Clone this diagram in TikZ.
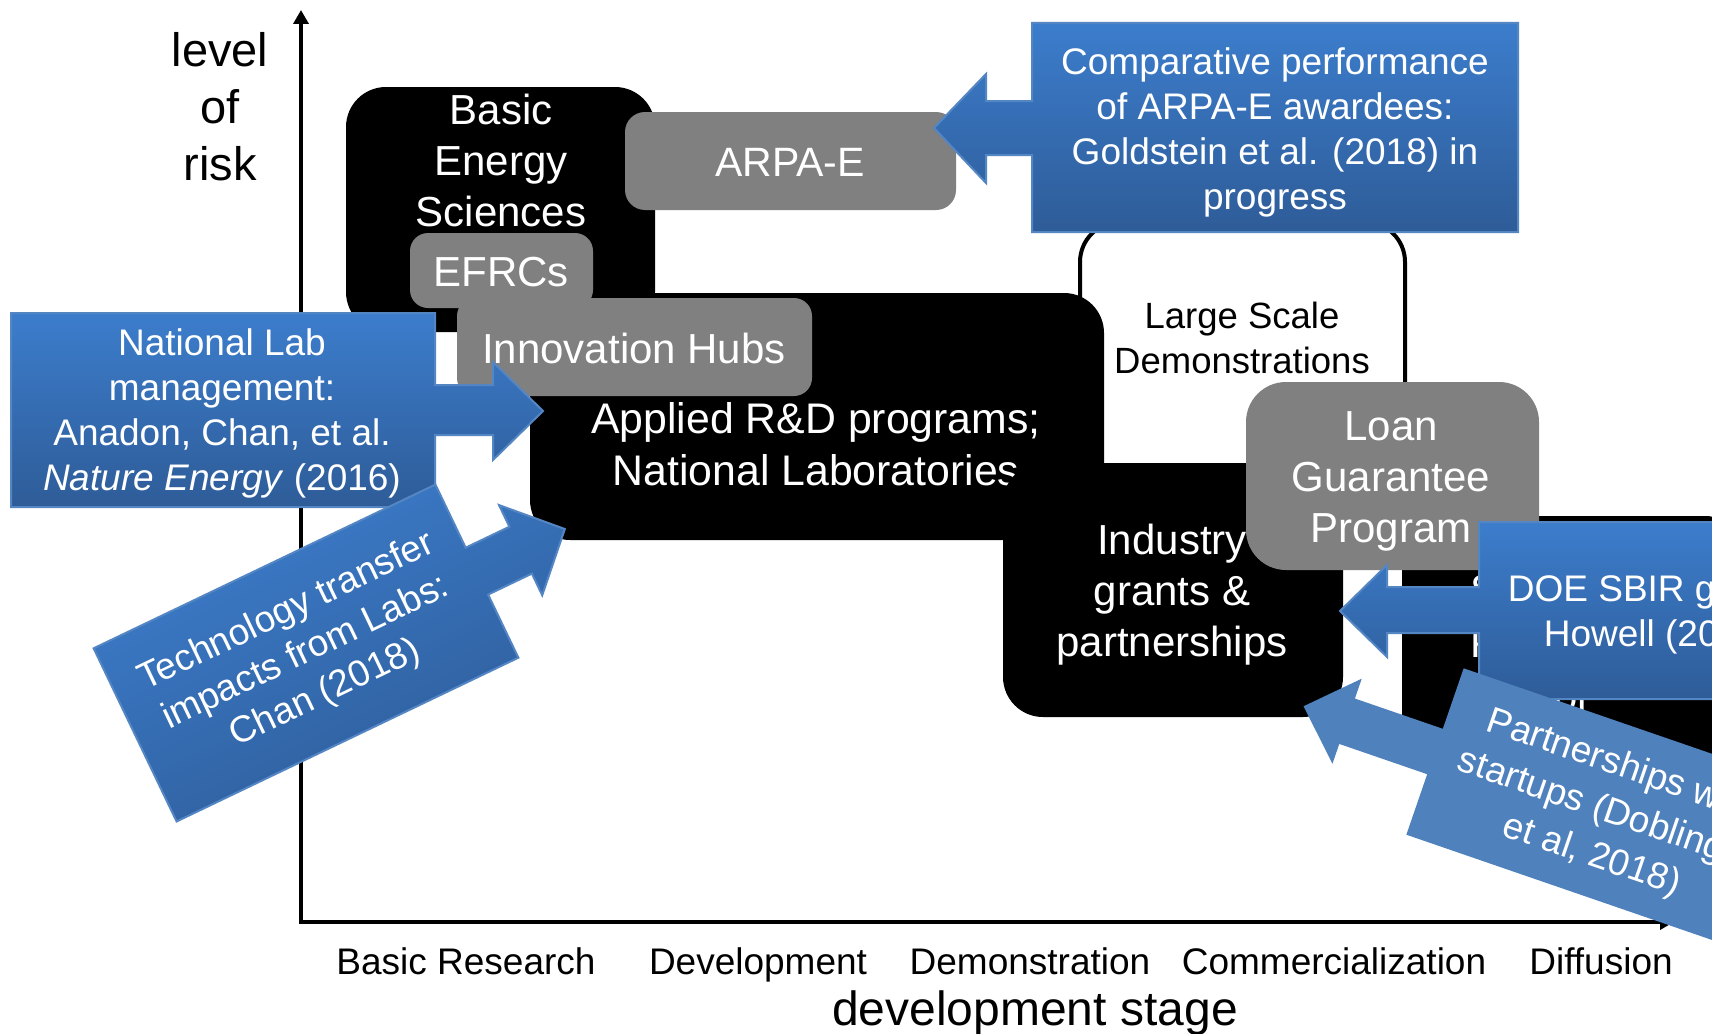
\documentclass[tikz,border=0pt]{standalone}
\usepackage{fontspec}
\setmainfont{Liberation Sans}
\usetikzlibrary{arrows.meta}
\definecolor{bluetop}{RGB}{60,125,204}
\definecolor{bluebot}{RGB}{46,92,152}
\definecolor{blueline}{RGB}{84,134,196}
\definecolor{blueflat}{RGB}{79,129,189}
\definecolor{boxgrey}{RGB}{128,128,128}
\newcommand\fsz[2]{\fontsize{#1}{#2}\selectfont}
\begin{document}
\begin{tikzpicture}[x=1pt,y=-1pt,
  blackbox/.style={fill=black, rounded corners=40pt},
  greybox/.style={fill=boxgrey, rounded corners=18pt},
  wtxt/.style={text=white, align=center, inner sep=0pt},
  btxt/.style={text=black, align=center, inner sep=0pt},
  callout/.style={top color=bluetop, bottom color=bluebot, draw=blueline, line width=2pt},
  axisline/.style={line width=3.5pt, {Triangle[length=14pt,width=15pt]}-{Triangle[length=14pt,width=15pt]}},
]
\useasboundingbox (0,0) rectangle (1712,1033);
\clip (0,0) rectangle (1712,1033);
\fill[white] (0,0) rectangle (1712,1033);

% axes
\coordinate (Ytop) at (301,10);
\coordinate (O) at (301,922);
\coordinate (Xend) at (1674,922);
\draw[axisline] (Ytop) -- (O) -- (Xend);
\node[btxt, font=\fsz{47}{57}] (risk) at (220,107) {level\\of\\risk};
\node[btxt, font=\fsz{37}{44}, anchor=base] (lbr) at (466,974) {Basic Research};
\node[btxt, font=\fsz{37}{44}, anchor=base] (ldev) at (758,974) {Development};
\node[btxt, font=\fsz{37}{44}, anchor=base] (ldem) at (1030,974) {Demonstration};
\node[btxt, font=\fsz{37}{44}, anchor=base] (lcom) at (1334,974) {Commercialization};
\node[btxt, font=\fsz{37}{44}, anchor=base] (ldif) at (1601,974) {Diffusion};
\node[btxt, font=\fsz{48}{56}, anchor=base] (xlab) at (1035,1025) {development stage};

% large scale demonstrations
\draw[line width=4pt, fill=white, rounded corners=40pt] (1080,222) rectangle (1405,480);
\node[btxt, font=\fsz{36.5}{45}] (lsd) at (1242,338) {Large Scale\\Demonstrations};

% black boxes
\fill[blackbox] (346,87) rectangle (655,332);
\node[wtxt, font=\fsz{42}{51}] (bes) at (501,160) {Basic\\Energy\\Sciences};
\fill[blackbox] (530,293) rectangle (1104,540);
\node[wtxt, font=\fsz{42.8}{52}] (applied) at (816,444) {Applied R\&D programs;\\National Laboratories};
\fill[blackbox] (1003,463) rectangle (1343,717);
\node[wtxt, font=\fsz{42}{51}] (industry) at (1172,595) {Industry\\grants \&\\partnerships};
\fill[blackbox] (1402,516) rectangle (1745,760);
\node[wtxt, font=\fsz{42}{53}, align=left, anchor=west] (sbiz) at (1470,643) {Startups \&\\Private\\Sector};

% grey boxes
\fill[greybox, rounded corners=20pt] (625,112) rectangle (956,210);
\node[wtxt, font=\fsz{41}{50}] (arpa) at (790,162) {ARPA-E};
\fill[greybox] (410,233) rectangle (593,308);
\node[wtxt, font=\fsz{42}{50}] (efrc) at (501,272) {EFRCs};
\fill[greybox] (457,298) rectangle (812,396);
\node[wtxt, font=\fsz{42}{50}] (hubs) at (634,348) {Innovation Hubs};
\fill[greybox, rounded corners=40pt] (1246,382) rectangle (1539,570);
\node[wtxt, font=\fsz{42}{51}] (loan) at (1391,481) {Loan\\Guarantee\\Program};

% callouts
\path[callout] (1518,23) -- (1032,23) -- (1032,101) -- (986,101) -- (986,74) -- (934,128) -- (986,183) -- (986,155) -- (1032,155) -- (1032,232) -- (1518,232) -- cycle;
\node[wtxt, font=\fsz{37}{45}] (comp) at (1275,132) {Comparative performance\\of ARPA-E awardees:\\Goldstein et al. (2018) in\\progress};

\path[callout] (11,313) -- (435,313) -- (435,385) -- (493,385) -- (493,362) -- (543,411) -- (493,460) -- (493,435) -- (435,435) -- (435,507) -- (11,507) -- cycle;
\node[wtxt, font=\fsz{37}{45}] (natlab) at (222,413) {National Lab\\management:\\Anadon, Chan, et al.\\\textit{Nature Energy} (2016)};

\begin{scope}[shift={(306,653)}, rotate=25.6]
\path[callout, shading angle=25.6] (-189.5,-96) -- (189.5,-96) -- (189.5,-26) -- (238,-26) -- (238,-50) -- (287,0) -- (238,50) -- (238,26) -- (189.5,26) -- (189.5,96) -- (-189.5,96) -- cycle;
\node[wtxt, transform shape, font=\fsz{37}{45}] (tech) at (0,0) {Technology transfer\\impacts from Labs:\\Chan (2018)};
\end{scope}

\path[callout] (1840,522) -- (1479,522) -- (1479,587) -- (1387,587) -- (1387,565) -- (1340,611) -- (1387,657) -- (1387,633) -- (1479,633) -- (1479,699) -- (1840,699) -- cycle;
\node[wtxt, font=\fsz{37}{45}] (doe) at (1658,615) {DOE SBIR grants:\\Howell (2017)};

\begin{scope}[shift={(1435,751.5)}, rotate=-19]
\fill[blueflat] (0,-88) -- (420,-88) -- (420,88) -- (0,88) -- (0,24) -- (-93,24) -- (-93,45) -- (-139,0) -- (-93,-45) -- (-93,-24) -- (0,-24) -- cycle;
\node[wtxt, transform shape, font=\fsz{37}{47}] (partner) at (182,1) {Partnerships with\\startups (Doblinger\\et al, 2018)};
\end{scope}
\end{tikzpicture}
\end{document}
